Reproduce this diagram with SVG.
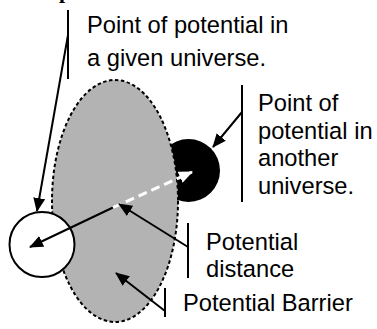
<svg xmlns="http://www.w3.org/2000/svg" width="377" height="329" viewBox="0 0 377 329">
<style>
.t{font-family:"Liberation Sans",Arial,sans-serif;font-size:23.7px;fill:#000}
.ln{stroke:#000;stroke-width:2;fill:none}
</style>
<defs>
<marker id="ab" markerUnits="userSpaceOnUse" markerWidth="14" markerHeight="12" refX="13" refY="6" orient="auto" viewBox="0 0 14 12">
<path d="M0,0 L14,6 L0,12 z" fill="#000"/>
</marker>
<marker id="aw" markerUnits="userSpaceOnUse" markerWidth="14" markerHeight="12" refX="13" refY="6" orient="auto" viewBox="0 0 14 12">
<path d="M0,0 L14,6 L0,12 z" fill="#fff"/>
</marker>
</defs>
<rect width="377" height="329" fill="#fff"/>
<text x="59" y="-2.3" style="font-family:'Liberation Serif',serif;font-weight:bold;font-size:22px">p</text>
<g id="other-universe"><circle cx="188.5" cy="170.5" r="31.5" fill="#000"/></g>
<g id="barrier"><ellipse cx="115" cy="201" rx="63" ry="121" fill="#b3b3b3" stroke="#000" stroke-width="2" stroke-dasharray="3.5 2.5"/></g>
<g id="given-universe"><circle cx="42" cy="244.5" r="32.5" fill="#fff" stroke="#000" stroke-width="2"/></g>
<g id="connectors">
<line class="ln" x1="113" y1="207.5" x2="30" y2="247" marker-end="url(#ab)"/>
<line x1="113" y1="207.5" x2="192" y2="172" stroke="#fff" stroke-width="3" stroke-dasharray="9 5" marker-end="url(#aw)"/>
<line class="ln" x1="68" y1="10" x2="68" y2="79"/>
<line class="ln" x1="68" y1="35" x2="37" y2="211" marker-end="url(#ab)"/>
<line class="ln" x1="242" y1="85" x2="242" y2="202"/>
<line class="ln" x1="242" y1="112" x2="213" y2="147" marker-end="url(#ab)"/>
<line class="ln" x1="188" y1="223" x2="188" y2="278"/>
<line class="ln" x1="188" y1="247" x2="119" y2="204" marker-end="url(#ab)"/>
<line class="ln" x1="165" y1="288" x2="165" y2="317"/>
<line class="ln" x1="165" y1="311" x2="116" y2="273" marker-end="url(#ab)"/>
</g>
<g id="label-given">
<text class="t" x="87" y="33">Point of potential in</text>
<text class="t" x="87" y="66">a given universe.</text>
</g>
<g id="label-other">
<text class="t" x="258" y="111">Point of</text>
<text class="t" x="258" y="138.5">potential in</text>
<text class="t" x="258" y="166">another</text>
<text class="t" x="258" y="193.5">universe.</text>
</g>
<g id="label-distance">
<text class="t" x="206" y="250">Potential</text>
<text class="t" x="206" y="277">distance</text>
</g>
<g id="label-barrier"><text class="t" x="183" y="311">Potential Barrier</text></g>
</svg>
